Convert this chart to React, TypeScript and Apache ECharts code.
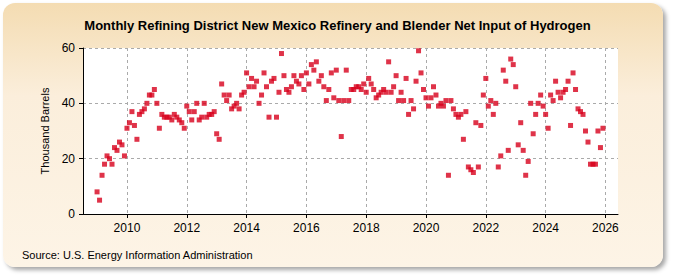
import React, { useEffect, useRef } from "react";
import * as echarts from "echarts";

const startYear = 2009;
const values2009 = [8, 5, 14, 18, 21, 20, 18, 24, 23, 26, 25, 21];
const values2010 = [31, 33, 37, 32, 27, 36, 37, 38, 40, 43, 43, 45];
const values2011 = [40, 31, 36, 35, 35, 35, 34, 36, 35, 34, 33, 31];
const values2012 = [39, 37, 34, 37, 40, 34, 35, 40, 35, 36, 36, 37];
const values2013 = [29, 27, 47, 43, 41, 43, 38, 39, 40, 38, 43, 44];
const values2014 = [51, 46, 49, 46, 48, 40, 43, 51, 46, 35, 48, 49];
const values2015 = [35, 44, 58, 50, 45, 44, 46, 50, 48, 47, 50, 45];
const values2016 = [51, 47, 54, 52, 55, 48, 50, 46, 41, 45, 51, 42];
const values2017 = [52, 41, 28, 41, 52, 41, 45, 45, 46, 46, 45, 47];
const values2018 = [44, 49, 47, 45, 42, 43, 44, 45, 44, 55, 44, 46];
const values2019 = [50, 41, 44, 41, 49, 36, 41, 38, 48, 59, 51, 45];
const values2020 = [42, 39, 42, 46, 43, 39, 40, 39, 41, 14, 41, 38];
const values2021 = [36, 35, 36, 27, 37, 17, 16, 15, 33, 17, 32, 43];
const values2022 = [49, 39, 41, 36, 40, 17, 21, 52, 48, 23, 56, 54];
const values2023 = [46, 25, 33, 23, 14, 19, 40, 29, 36, 40, 43, 39];
const values2024 = [36, 31, 43, 41, 48, 44, 42, 44, 45, 48, 32, 51];
const values2025 = [45, 38, 37, 36, 30, 26, 18, 18, 18, 30, 24, 31];

const yearlyValues = [
  values2009, values2010, values2011, values2012, values2013, values2014,
  values2015, values2016, values2017, values2018, values2019, values2020,
  values2021, values2022, values2023, values2024, values2025,
];

const xTickLabels = [2010, 2012, 2014, 2016, 2018, 2020, 2022, 2024, 2026];
const yTicks = [0, 20, 40, 60];

const title = "Monthly Refining District New Mexico Refinery and Blender Net Input of Hydrogen";
const yAxisName = "Thousand Barrels";
const sourceText = "Source: U.S. Energy Information Administration";

export default function App() {
  const ref = useRef<HTMLDivElement>(null);

  useEffect(() => {
    if (!ref.current) return;
    const chart = echarts.init(ref.current, null, { renderer: "svg" });
    const data: [number, number][] = [];
    yearlyValues.forEach((arr, yi) => {
      arr.forEach((v, m) => {
        data.push([startYear + yi + m / 12, v]);
      });
    });
    const font = "'Liberation Sans', Arial, sans-serif";
    chart.setOption({
      animation: false,
      backgroundColor: "transparent",
      textStyle: { fontFamily: font },
      title: {
        text: title,
        left: "center",
        top: 14,
        textStyle: { fontSize: 13, fontWeight: "bold", color: "#000", fontFamily: font },
      },
      grid: {
        left: 83,
        right: 57,
        top: 48,
        bottom: 61,
        show: true,
        backgroundColor: "#ffffff",
        borderWidth: 0,
      },
      xAxis: {
        type: "value",
        min: 2008.53,
        max: 2026.42,
        axisLine: { show: true, lineStyle: { color: "#000", width: 1 } },
        axisTick: { show: true, customValues: xTickLabels, length: 4, lineStyle: { color: "#000" } },
        axisLabel: {
          customValues: xTickLabels,
          color: "#000",
          fontSize: 12,
          fontFamily: font,
          formatter: (v: number) => String(Math.round(v)),
        },
        splitLine: { show: true, lineStyle: { color: "#aaa", type: [3, 3], width: 1 } },
      },
      yAxis: {
        type: "value",
        min: yTicks[0],
        max: yTicks[yTicks.length - 1],
        interval: 20,
        name: yAxisName,
        nameLocation: "middle",
        nameGap: 32,
        nameTextStyle: { fontSize: 11, color: "#000", fontFamily: font },
        axisLine: { show: true, lineStyle: { color: "#000", width: 1 } },
        axisTick: { show: true, length: 4, lineStyle: { color: "#000" } },
        axisLabel: { color: "#000", fontSize: 12, fontFamily: font },
        splitLine: { show: true, lineStyle: { color: "#aaa", type: [3, 3], width: 1 } },
      },
      graphic: [
        {
          type: "text",
          left: 22,
          top: 249,
          style: { text: sourceText, fontSize: 11, fill: "#000", fontFamily: font },
        },
      ],
      series: [
        {
          type: "scatter",
          data,
          symbol: "rect",
          symbolSize: 5,
          itemStyle: { color: "#d7001b" },
        },
      ],
    });
    return () => chart.dispose();
  }, []);

  return (
    <div style={{ position: "fixed", left: 0, top: 0, width: 675, height: 275, background: "#ffffff" }}>
      <div
        style={{
          position: "absolute",
          left: 3,
          top: 3,
          width: 660,
          height: 264,
          borderRadius: 12,
          background: "linear-gradient(to bottom, #f4dcb2 0%, #fbeedb 35%, #fdf4e6 100%)",
          boxShadow: "3px 3px 4px rgba(0,0,0,0.35)",
        }}
      />
      <div ref={ref} style={{ position: "absolute", left: 0, top: 0, width: 675, height: 275 }} />
    </div>
  );
}
